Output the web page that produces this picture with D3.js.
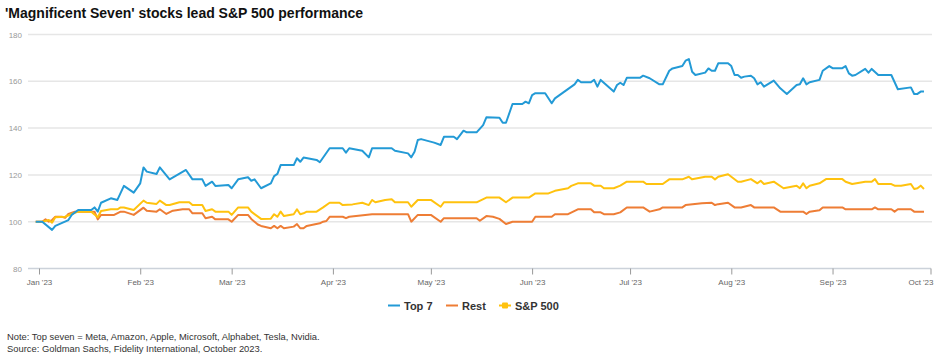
<!DOCTYPE html>
<html><head><meta charset="utf-8">
<script src="https://cdn.jsdelivr.net/npm/d3@7"></script>
<style>
html,body{margin:0;padding:0;background:#fff;}
svg{display:block;font-family:"Liberation Sans",Arial,sans-serif;}
</style></head>
<body><svg id="c" width="940" height="359"></svg>
<script>
const title = "'Magnificent Seven' stocks lead S&P 500 performance";
const notes = ["Note: Top seven = Meta, Amazon, Apple, Microsoft, Alphabet, Tesla, Nvidia.",
               "Source: Goldman Sachs, Fidelity International, October 2023."];
const seriesNames = ["Top 7", "Rest", "S&P 500"];
const seriesColors = ["#239ad6", "#ee7d35", "#ffc20e"];
const yTicks = [80, 100, 120, 140, 160, 180];
const xTickDates = ["2023-01-01","2023-02-01","2023-03-01","2023-04-01","2023-05-01","2023-06-01","2023-07-01","2023-08-01","2023-09-01","2023-10-01"];
const xTickLabels = ["Jan '23","Feb '23","Mar '23","Apr '23","May '23","Jun '23","Jul '23","Aug '23","Sep '23","Oct '23"];

const top7Dates = ["2022-12-31","2023-01-02","2023-01-05","2023-01-06","2023-01-10","2023-01-11","2023-01-13","2023-01-17","2023-01-18","2023-01-19","2023-01-20","2023-01-23","2023-01-25","2023-01-27","2023-01-30","2023-02-01","2023-02-02","2023-02-03","2023-02-06","2023-02-07","2023-02-10","2023-02-15","2023-02-17","2023-02-20","2023-02-21","2023-02-23","2023-02-24","2023-02-28","2023-03-01","2023-03-03","2023-03-06","2023-03-07","2023-03-08","2023-03-10","2023-03-13","2023-03-14","2023-03-15","2023-03-16","2023-03-20","2023-03-21","2023-03-22","2023-03-23","2023-03-27","2023-03-28","2023-03-31","2023-04-04","2023-04-05","2023-04-06","2023-04-10","2023-04-12","2023-04-13","2023-04-19","2023-04-20","2023-04-24","2023-04-25","2023-04-26","2023-04-27","2023-04-28","2023-05-02","2023-05-04","2023-05-05","2023-05-08","2023-05-09","2023-05-11","2023-05-12","2023-05-15","2023-05-17","2023-05-18","2023-05-22","2023-05-23","2023-05-24","2023-05-26","2023-05-29","2023-05-30","2023-05-31","2023-06-01","2023-06-02","2023-06-05","2023-06-07","2023-06-08","2023-06-14","2023-06-15","2023-06-16","2023-06-19","2023-06-20","2023-06-21","2023-06-22","2023-06-26","2023-06-27","2023-06-28","2023-06-29","2023-06-30","2023-07-04","2023-07-05","2023-07-07","2023-07-10","2023-07-11","2023-07-13","2023-07-14","2023-07-17","2023-07-18","2023-07-19","2023-07-20","2023-07-21","2023-07-24","2023-07-25","2023-07-26","2023-07-27","2023-07-28","2023-07-31","2023-08-01","2023-08-02","2023-08-03","2023-08-04","2023-08-05","2023-08-07","2023-08-08","2023-08-09","2023-08-10","2023-08-11","2023-08-14","2023-08-16","2023-08-18","2023-08-21","2023-08-22","2023-08-23","2023-08-24","2023-08-25","2023-08-28","2023-08-29","2023-08-31","2023-09-01","2023-09-04","2023-09-05","2023-09-06","2023-09-07","2023-09-08","2023-09-11","2023-09-12","2023-09-13","2023-09-15","2023-09-19","2023-09-21","2023-09-25","2023-09-26","2023-09-27","2023-09-28","2023-09-29"];
const top7Values = [100,100,96.5,98.2,100.7,102.9,105,105,106.1,104.3,108.1,110,109.3,115.3,112.4,116.4,123.2,121.4,120.4,123.2,118.1,122.1,118.1,118.1,115.3,117.1,115.3,115.7,114.3,118.1,119,117.5,118.1,114.3,116.4,119.5,120.4,124.2,124.2,127.1,125.6,127.4,126.4,125.4,131.4,131.4,129.5,131.4,130.3,127.5,131.4,131.4,130.3,129.2,127.5,129.9,134.9,135.3,133.8,132.8,136.3,136.3,135.3,138.9,138.2,138.2,141.3,144.6,144.4,142.3,142.3,150.3,150.3,151.3,150.6,154.1,154.9,154.9,150.6,152.7,158.7,160.6,159.6,159.6,160.6,157.7,160.6,155.6,158.4,159.4,158.4,161.5,161.5,162.4,161.3,158.7,158.7,164.5,165.5,166.5,168.8,169.5,164.1,162.7,163.7,165.5,164.5,164.5,167.7,167.7,166.5,162.7,162.7,161.5,162,162.4,161.3,158.7,159.6,157.7,160.3,157,154.6,158.4,158.7,161.3,158.7,159.6,160.6,164.5,166.5,165.6,165.6,166.5,163.4,162.4,162.7,165.3,163.7,165.3,162.7,162.7,156.6,157.4,154.6,154.6,155.6,155.6];

const restDates = ["2022-12-31","2023-01-02","2023-01-03","2023-01-04","2023-01-05","2023-01-06","2023-01-08","2023-01-09","2023-01-10","2023-01-12","2023-01-17","2023-01-18","2023-01-19","2023-01-20","2023-01-24","2023-01-26","2023-01-27","2023-01-30","2023-02-02","2023-02-03","2023-02-06","2023-02-07","2023-02-09","2023-02-11","2023-02-14","2023-02-16","2023-02-17","2023-02-20","2023-02-21","2023-02-23","2023-02-24","2023-02-28","2023-03-01","2023-03-03","2023-03-06","2023-03-07","2023-03-09","2023-03-10","2023-03-13","2023-03-14","2023-03-15","2023-03-16","2023-03-17","2023-03-20","2023-03-21","2023-03-22","2023-03-23","2023-03-24","2023-03-28","2023-03-29","2023-03-30","2023-03-31","2023-04-04","2023-04-05","2023-04-06","2023-04-13","2023-04-24","2023-04-25","2023-04-27","2023-05-01","2023-05-04","2023-05-05","2023-05-15","2023-05-16","2023-05-18","2023-05-20","2023-05-22","2023-05-24","2023-05-26","2023-06-01","2023-06-02","2023-06-07","2023-06-08","2023-06-12","2023-06-15","2023-06-19","2023-06-20","2023-06-22","2023-06-23","2023-06-26","2023-06-28","2023-06-30","2023-07-05","2023-07-07","2023-07-10","2023-07-11","2023-07-17","2023-07-18","2023-07-23","2023-07-26","2023-07-27","2023-07-28","2023-07-31","2023-08-02","2023-08-04","2023-08-07","2023-08-08","2023-08-14","2023-08-16","2023-08-23","2023-08-24","2023-08-25","2023-08-28","2023-08-29","2023-09-04","2023-09-05","2023-09-13","2023-09-14","2023-09-15","2023-09-19","2023-09-20","2023-09-21","2023-09-25","2023-09-26","2023-09-29"];
const restValues = [100,100,101,100,100.7,102.1,102.1,101.7,103.3,104.3,104.3,104.3,101,102.9,102.9,104.3,104.3,102.9,106,104.7,104.3,105.3,103.3,104.7,105.3,105.3,103.6,103.6,101.5,102.1,101,101,100,102.9,102.9,101.2,98.8,98.2,97.2,98.2,97.2,98.2,97.2,97.9,99,97.2,97.2,98.2,99.3,100,100.3,102.1,102.1,101.5,102.1,103.2,103.2,100,102.9,102.9,100,101.5,101.5,100.4,102.4,102.1,101.2,99,100,100,102.1,102.1,103.2,103.2,105.3,105.3,104,104,103.2,103.2,104,106.1,106.1,104.3,105.3,106.1,106.1,107.1,107.9,108.1,107.1,107.5,108.1,106.1,106.1,107.1,106.1,106.1,104.3,104.3,103.3,104.3,104.9,106.1,106.1,105.3,105.3,106.1,105.3,105.3,104.3,105.3,105.3,104.3,104.3];

const spDates = ["2022-12-31","2023-01-02","2023-01-04","2023-01-05","2023-01-06","2023-01-09","2023-01-11","2023-01-13","2023-01-17","2023-01-19","2023-01-20","2023-01-23","2023-01-25","2023-01-26","2023-01-27","2023-01-30","2023-02-02","2023-02-03","2023-02-06","2023-02-07","2023-02-09","2023-02-10","2023-02-13","2023-02-16","2023-02-17","2023-02-20","2023-02-21","2023-02-23","2023-02-24","2023-02-28","2023-03-01","2023-03-03","2023-03-06","2023-03-07","2023-03-10","2023-03-13","2023-03-14","2023-03-15","2023-03-16","2023-03-17","2023-03-20","2023-03-21","2023-03-22","2023-03-23","2023-03-24","2023-03-27","2023-03-29","2023-03-31","2023-04-03","2023-04-04","2023-04-07","2023-04-10","2023-04-12","2023-04-13","2023-04-14","2023-04-17","2023-04-19","2023-04-20","2023-04-24","2023-04-25","2023-04-27","2023-05-01","2023-05-04","2023-05-05","2023-05-15","2023-05-18","2023-05-22","2023-05-24","2023-05-26","2023-05-31","2023-06-02","2023-06-06","2023-06-08","2023-06-12","2023-06-13","2023-06-15","2023-06-19","2023-06-20","2023-06-22","2023-06-23","2023-06-26","2023-06-28","2023-06-30","2023-07-05","2023-07-06","2023-07-11","2023-07-13","2023-07-17","2023-07-19","2023-07-20","2023-07-22","2023-07-24","2023-07-26","2023-07-27","2023-07-28","2023-07-31","2023-08-03","2023-08-04","2023-08-07","2023-08-09","2023-08-10","2023-08-11","2023-08-14","2023-08-17","2023-08-21","2023-08-22","2023-08-23","2023-08-24","2023-08-25","2023-08-28","2023-08-30","2023-09-04","2023-09-05","2023-09-07","2023-09-11","2023-09-13","2023-09-14","2023-09-15","2023-09-19","2023-09-20","2023-09-22","2023-09-25","2023-09-26","2023-09-27","2023-09-28","2023-09-29"];
const spValues = [100,100,100.7,99.6,101.9,102.1,103.3,104.3,104.3,101.9,104.6,105.3,105.3,106.1,106.1,105,109,108.1,107.6,109,107.1,107.1,108.3,108.3,107.1,107.1,104.6,105.3,104.3,104.3,102.9,106.1,106.1,104.3,101.2,101.3,103.2,102.1,104.3,102.4,103.2,105.3,103.2,103.6,104.3,104.3,106.1,108.1,108.1,107.1,107.4,108.1,107.1,109.3,108.3,109.3,109.6,108.3,108.3,106.4,109.3,109.3,106.4,108.3,108.3,110.3,110.3,108.3,110.3,110.3,112.1,112.1,113.2,114.3,115.3,116.4,116.4,115.4,115.4,114.3,114.3,115.4,117.1,117.1,116.1,116.1,118.1,118.1,119.2,118.1,118.7,119.2,119.2,118.1,119.2,120.3,117.1,117.1,118.2,116.4,117.5,116.1,117.1,114.3,115.4,114.3,116.4,114.3,115.4,116.4,118.2,118.2,117.1,116.1,117.1,117.1,118.2,116.1,116.1,115.4,115.4,116.1,114,114.3,115.4,114];

const parse = d3.utcParse("%Y-%m-%d");
const svg = d3.select("#c");
const x = d3.scaleUtc().domain([parse("2023-01-01"), parse("2023-10-01")]).range([39, 930.5]);
const y = d3.scaleLinear().domain([80, 180]).range([268.5, 34.5]);

svg.append("text").attr("x", 5).attr("y", 18).attr("font-size", 14).attr("font-weight", "bold")
   .attr("fill", "#111").text(title);

// gridlines
svg.append("g").selectAll("line").data(yTicks.filter(v => v !== 80)).join("line")
   .attr("x1", 28).attr("x2", 932).attr("y1", d => y(d)).attr("y2", d => y(d))
   .attr("stroke", "#e6e6e6").attr("stroke-width", 1.5);

// y axis labels
svg.append("g").selectAll("text").data(yTicks).join("text")
   .attr("x", 22).attr("y", d => y(d) + 3).attr("text-anchor", "end")
   .attr("font-size", 8).attr("fill", "#999").text(d => d);

// x axis
const xAxis = d3.axisBottom(x)
  .tickValues(xTickDates.map(parse))
  .tickFormat((d, i) => xTickLabels[i])
  .tickSize(6).tickSizeOuter(0);
const gx = svg.append("g").attr("transform", `translate(0,${y(80)})`).call(xAxis);
gx.select(".domain").attr("d", `M28,0H931`).attr("stroke", "#ccd2da").attr("stroke-width", 1.5);
gx.selectAll(".tick line").attr("stroke", "#999");
gx.selectAll(".tick text").attr("font-size", 8).attr("fill", "#666").attr("dy", "0.9em");
gx.selectAll(".tick text").filter((d, i) => i === xTickLabels.length - 1)
  .attr("text-anchor", "end").attr("x", 2.5);

// lines
const line = d3.line().x(d => x(d[0])).y(d => y(d[1]));
const series = [
  {dates: top7Dates, values: top7Values},
  {dates: restDates, values: restValues},
  {dates: spDates, values: spValues}
];
// draw order: rest, s&p, top7
[1, 2, 0].forEach(i => {
  const s = series[i];
  const pts = s.dates.map((d, j) => [parse(d), s.values[j]]);
  svg.append("path").datum(pts).attr("d", line).attr("fill", "none")
     .attr("stroke", seriesColors[i]).attr("stroke-width", 2).attr("stroke-linejoin", "round");
});

// legend
const legendX = [388, 446, 499];
const lg = svg.append("g");
seriesNames.forEach((n, i) => {
  const g = lg.append("g").attr("transform", `translate(${legendX[i]},305.5)`);
  g.append("line").attr("x1", 0).attr("x2", 12).attr("stroke", seriesColors[i]).attr("stroke-width", 2);
  if (i === 2) g.append("rect").attr("x", 3).attr("y", -3).attr("width", 6).attr("height", 6)
     .attr("rx", 1).attr("fill", seriesColors[i]);
  g.append("text").attr("x", 16).attr("y", 4).attr("font-size", 11).attr("font-weight", "bold")
     .attr("fill", "#333").text(n);
});

// notes
svg.append("g").selectAll("text").data(notes).join("text")
   .attr("x", 7).attr("y", (d, i) => 340 + i * 12).attr("font-size", 9.4).attr("fill", "#333").text(d => d);
</script></body></html>
